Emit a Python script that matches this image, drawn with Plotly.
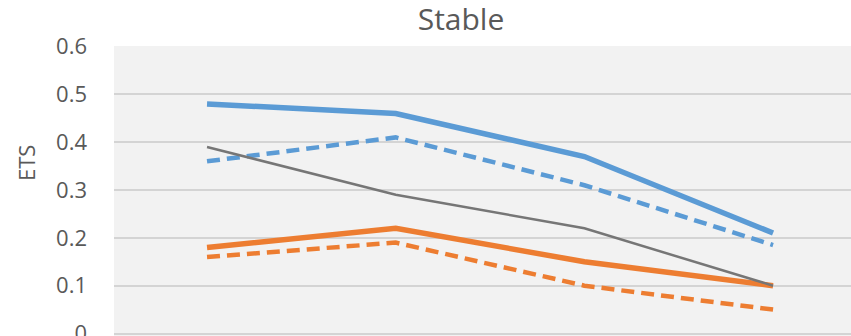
import plotly.graph_objects as go

categories = ["1", "2", "3", "4"]
blue_solid = [0.48, 0.46, 0.37, 0.21]
blue_dashed = [0.36, 0.41, 0.31, 0.185]
orange_solid = [0.18, 0.22, 0.15, 0.10]
orange_dashed = [0.16, 0.19, 0.10, 0.05]
gray_line = [0.39, 0.29, 0.22, 0.10]
y_ticks = [0, 0.1, 0.2, 0.3, 0.4, 0.5, 0.6]
y_tick_text = ["0", "0.1", "0.2", "0.3", "0.4", "0.5", "0.6"]

BLUE = "#5B9BD5"
ORANGE = "#ED7D31"
GRAY = "#767676"

fig = go.Figure()
fig.add_trace(go.Scatter(x=categories, y=blue_solid, mode="lines",
                         line=dict(color=BLUE, width=5.5)))
fig.add_trace(go.Scatter(x=categories, y=blue_dashed, mode="lines",
                         line=dict(color=BLUE, width=4.5, dash="13px,7px")))
fig.add_trace(go.Scatter(x=categories, y=orange_solid, mode="lines",
                         line=dict(color=ORANGE, width=5.5)))
fig.add_trace(go.Scatter(x=categories, y=orange_dashed, mode="lines",
                         line=dict(color=ORANGE, width=4.5, dash="13px,7px")))
fig.add_trace(go.Scatter(x=categories, y=gray_line, mode="lines",
                         line=dict(color=GRAY, width=2.5)))

fig.update_layout(
    width=851, height=336,
    margin=dict(l=114, r=0, t=46, b=0, autoexpand=False),
    paper_bgcolor="white",
    plot_bgcolor="#f2f2f2",
    showlegend=False,
    font=dict(family="Open Sans", color="#595959"),
    title=dict(text="Stable", font=dict(size=30, color="#595959"),
               x=461 / 851, xref="container", xanchor="center",
               y=1 - 19 / 336, yref="container", yanchor="middle",
               automargin=False),
    xaxis=dict(type="category", range=[-0.493, 3.413], showticklabels=False,
               showgrid=False, zeroline=False, showline=False, ticks="",
               automargin=False),
    yaxis=dict(range=[-0.0052, 0.6011], tickvals=y_ticks, ticktext=y_tick_text,
               tickfont=dict(size=22, color="#595959"),
               showgrid=True, gridcolor="#d4d4d4", gridwidth=1.5,
               zeroline=True, zerolinecolor="#d4d4d4", zerolinewidth=1.5,
               showline=False, ticks="", ticklabelstandoff=26,
               ticklabeloverflow="allow", automargin=False),
    annotations=[dict(text="ETS", textangle=-90,
                      x=(26 - 114) / 737, y=(336 - 163) / 290,
                      xref="paper", yref="paper", showarrow=False,
                      xanchor="center", yanchor="middle",
                      font=dict(size=22, color="#595959"))],
)

fig.write_html("out.html")
